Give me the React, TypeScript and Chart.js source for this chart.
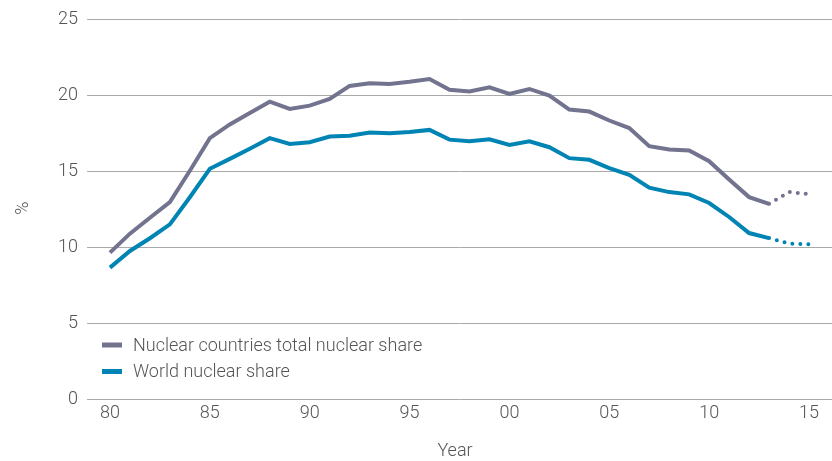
import React, { useEffect, useRef } from "react";
import { Chart, registerables } from "chart.js";

Chart.register(...registerables);

const years = [
  1980, 1981, 1982, 1983, 1984, 1985, 1986, 1987, 1988, 1989,
  1990, 1991, 1992, 1993, 1994, 1995, 1996, 1997, 1998, 1999,
  2000, 2001, 2002, 2003, 2004, 2005, 2006, 2007, 2008, 2009,
  2010, 2011, 2012, 2013, 2014, 2015,
];
const nuclearCountriesShare = [
  9.65, 10.9, 11.95, 12.98, 15.05, 17.2, 18.1, 18.86, 19.6, 19.12,
  19.34, 19.78, 20.64, 20.81, 20.77, 20.92, 21.1, 20.39, 20.28, 20.55,
  20.11, 20.44, 20.0, 19.08, 18.95, 18.36, 17.86, 16.67, 16.45, 16.38,
  15.68, 14.47, 13.31, 12.87, 13.65, 13.5,
];
const worldShare = [
  8.66, 9.76, 10.6, 11.51, 13.3, 15.18, 15.83, 16.5, 17.2, 16.82,
  16.93, 17.3, 17.35, 17.57, 17.52, 17.61, 17.74, 17.1, 16.99, 17.12,
  16.75, 16.99, 16.6, 15.88, 15.77, 15.22, 14.78, 13.93, 13.64, 13.49,
  12.92, 12.0, 10.94, 10.61, 10.25, 10.2,
];
const projectionStart = 2013;
const seriesLabels = ["Nuclear countries total nuclear share", "World nuclear share"];
const xTickValues = [1980, 1985, 1990, 1995, 2000, 2005, 2010, 2015];
const xTickLabels = ["80", "85", "90", "95", "00", "05", "10", "15"];
const yTickValues = [0, 5, 10, 15, 20, 25];
const xTitle = "Year";
const yTitle = "%";

const FONT = "Roboto, 'Liberation Sans', sans-serif";
const GRAY = "#72738f";
const BLUE = "#0084b4";
const TEXT = "#555555";
const GRID = "#a9a9a9";

export default function App() {
  const ref = useRef<HTMLCanvasElement>(null);

  useEffect(() => {
    document.body.style.margin = "0";
    const canvas = ref.current;
    if (!canvas) return;

    const segment = {
      borderDash: (ctx: any) => (ctx.p0.parsed.x >= projectionStart ? [0, 8] : undefined),
      borderCapStyle: (ctx: any) => (ctx.p0.parsed.x >= projectionStart ? "round" : "butt"),
    };

    const overlay = {
      id: "overlay",
      afterDraw(chart: any) {
        const c = chart.ctx;
        const area = chart.chartArea;
        c.save();
        c.font = `300 18px ${FONT}`;
        c.textBaseline = "middle";
        chart.data.datasets.forEach((ds: any, i: number) => {
          const y = area.bottom - 54 + i * 26.5;
          c.strokeStyle = ds.borderColor;
          c.lineWidth = 5;
          c.lineCap = "butt";
          c.beginPath();
          c.moveTo(area.left + 15, y);
          c.lineTo(area.left + 35, y);
          c.stroke();
          c.fillStyle = TEXT;
          c.textAlign = "left";
          c.fillText(ds.label, area.left + 46, y + 1);
        });
        c.font = `300 18px ${FONT}`;
        c.fillStyle = TEXT;
        c.textAlign = "center";
        c.fillText(xTitle, 455, area.bottom + 52);
        c.translate(23, 208);
        c.rotate(-Math.PI / 2);
        c.fillText(yTitle, 0, 0);
        c.restore();
      },
    };

    const chart = new Chart(canvas, {
      type: "line",
      data: {
        datasets: [
          {
            label: seriesLabels[0],
            data: years.map((x, i) => ({ x, y: nuclearCountriesShare[i] })),
            borderColor: GRAY,
            borderWidth: 4,
            pointRadius: 0,
            tension: 0,
            borderJoinStyle: "miter",
            segment,
          },
          {
            label: seriesLabels[1],
            data: years.map((x, i) => ({ x, y: worldShare[i] })),
            borderColor: BLUE,
            borderWidth: 4,
            pointRadius: 0,
            tension: 0,
            borderJoinStyle: "miter",
            segment,
          },
        ] as any,
      },
      options: {
        animation: false,
        responsive: false,
        layout: { padding: { top: 19, right: 0, bottom: 0, left: 0 } },
        plugins: { legend: { display: false }, tooltip: { enabled: false } },
        scales: {
          x: {
            type: "linear",
            min: 1978.85,
            max: 2016.15,
            afterBuildTicks: (s: any) => {
              s.ticks = xTickValues.map((v) => ({ value: v }));
            },
            afterFit: (s: any) => {
              s.height = 62;
            },
            grid: { display: false, drawTicks: false },
            border: { display: false },
            ticks: {
              padding: 4,
              color: TEXT,
              font: { family: FONT, size: 18, weight: "300" as any },
              maxRotation: 0,
              autoSkip: false,
              callback: (v: any) => xTickLabels[xTickValues.indexOf(Number(v))] ?? "",
            },
          },
          y: {
            min: 0,
            max: 25,
            afterBuildTicks: (s: any) => {
              s.ticks = yTickValues.map((v) => ({ value: v }));
            },
            afterFit: (s: any) => {
              s.width = 87;
            },
            grid: { color: GRID, lineWidth: 1, drawTicks: false },
            border: { display: false },
            ticks: {
              padding: 9,
              color: TEXT,
              font: { family: FONT, size: 18, weight: "300" as any },
            },
          },
        },
      },
      plugins: [overlay],
    });

    return () => chart.destroy();
  }, []);

  return (
    <div style={{ position: "absolute", left: 0, top: 0, width: 832, height: 461 }}>
      <canvas ref={ref} width={832} height={461} style={{ width: 832, height: 461 }} />
    </div>
  );
}
